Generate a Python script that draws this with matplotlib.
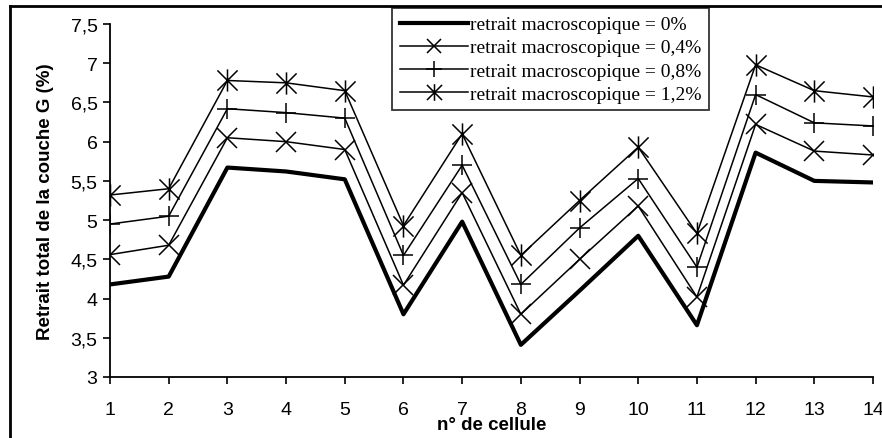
import matplotlib
matplotlib.use("Agg")
import matplotlib.pyplot as plt
from matplotlib.path import Path
from matplotlib.lines import Line2D

# Data
cells = list(range(1, 15))
retrait_0 = [4.18, 4.28, 5.67, 5.62, 5.52, 3.80, 4.98, 3.41, 4.10, 4.80, 3.66, 5.86, 5.50, 5.48]
retrait_04 = [4.56, 4.68, 6.05, 6.00, 5.90, 4.17, 5.35, 3.80, 4.50, 5.18, 4.02, 6.22, 5.88, 5.83]
retrait_08 = [4.95, 5.05, 6.42, 6.37, 6.30, 4.55, 5.70, 4.18, 4.90, 5.53, 4.40, 6.60, 6.24, 6.20]
retrait_12 = [5.32, 5.40, 6.78, 6.75, 6.65, 4.93, 6.10, 4.55, 5.25, 5.93, 4.83, 6.98, 6.65, 6.57]
labels = ["retrait macroscopique = 0%", "retrait macroscopique = 0,4%",
          "retrait macroscopique = 0,8%", "retrait macroscopique = 1,2%"]
y_ticks = [3, 3.5, 4, 4.5, 5, 5.5, 6, 6.5, 7, 7.5]

# Excel-style asterisk marker: x with a vertical bar
asterisk = Path([(-1, -1), (1, 1), (-1, 1), (1, -1), (0, -1.1), (0, 1.1)],
                [Path.MOVETO, Path.LINETO, Path.MOVETO, Path.LINETO, Path.MOVETO, Path.LINETO])

plt.rcParams['font.family'] = ['Liberation Sans', 'DejaVu Sans']

fig = plt.figure(figsize=(8.82, 4.39), dpi=100)
ax = fig.add_axes([110 / 882, 1 - 378 / 439, (873 - 110) / 882, (378 - 25) / 439])

ax.plot(cells, retrait_0, color='black', lw=3, label=labels[0])
ax.plot(cells, retrait_04, color='black', lw=1.1, marker='x', ms=14, mew=1.1, label=labels[1])
ax.plot(cells, retrait_08, color='black', lw=1.1, marker='+', ms=15, mew=1.1, label=labels[2])
ax.plot(cells, retrait_12, color='black', lw=1.1, marker=asterisk, ms=16, mew=1.1,
        fillstyle='none', label=labels[3])

ax.set_xlim(1, 14)
ax.set_ylim(3, 7.5)
ax.set_xticks(cells)
ax.set_yticks(y_ticks)
ax.set_yticklabels([f"{v:g}".replace('.', ',') for v in y_ticks])
ax.tick_params(axis='both', labelsize=14, direction='out', length=5, width=1.2, color='black')
ax.tick_params(axis='x', pad=12)
ax.tick_params(axis='y', pad=4)
for s in ['top', 'right']:
    ax.spines[s].set_visible(False)
for s in ['left', 'bottom']:
    ax.spines[s].set_linewidth(1.3)
ax.spines['bottom'].set_clip_on(False)

ax.set_xlabel("n° de cellule", fontsize=13.5, fontweight='bold', labelpad=-1)
ax.set_ylabel("Retrait total de la couche G (%)", fontsize=13.5, fontweight='bold', labelpad=12)

leg = ax.legend(loc='upper left', bbox_to_anchor=((392 - 110) / 763, (378 - 9) / 353),
                prop={'family': 'Liberation Serif', 'size': 14}, frameon=True, fancybox=False,
                edgecolor='black', borderpad=0.4, labelspacing=0.28, handlelength=3.5,
                handletextpad=0.1, borderaxespad=0, markerscale=0.75)
leg.get_frame().set_linewidth(1.3)

# outer chart frame (right/bottom edges fall outside the image)
fig.add_artist(Line2D([10 / 882, 10 / 882], [0, 1 - 7 / 439], color='black', lw=2,
                      transform=fig.transFigure))
fig.add_artist(Line2D([10 / 882, 1], [1 - 7 / 439, 1 - 7 / 439], color='black', lw=2,
                      transform=fig.transFigure))

fig.savefig("out.png", dpi=100)
